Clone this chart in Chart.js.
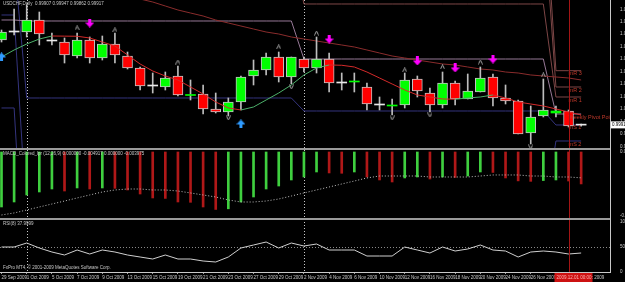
<!DOCTYPE html>
<html>
<head>
<meta charset="utf-8">
<script src="https://cdn.jsdelivr.net/npm/chart.js@4.4.1/dist/chart.umd.min.js"></script>
<style>
  html, body { margin: 0; padding: 0; background: #000; }
  #wrap { width: 625px; height: 282px; }
</style>
</head>
<body>
<div id="wrap"><canvas id="myChart"></canvas></div>
<script>
// USDCHF daily, 29 Sep - 2 Dec 2009
const dates = ['29 Sep 2009','30 Sep 2009','1 Oct 2009','2 Oct 2009','5 Oct 2009','6 Oct 2009','7 Oct 2009','8 Oct 2009','9 Oct 2009','12 Oct 2009',
  '13 Oct 2009','14 Oct 2009','15 Oct 2009','16 Oct 2009','19 Oct 2009','20 Oct 2009','21 Oct 2009','22 Oct 2009','23 Oct 2009','26 Oct 2009',
  '27 Oct 2009','28 Oct 2009','29 Oct 2009','30 Oct 2009','2 Nov 2009','3 Nov 2009','4 Nov 2009','5 Nov 2009','6 Nov 2009','9 Nov 2009',
  '10 Nov 2009','11 Nov 2009','12 Nov 2009','13 Nov 2009','16 Nov 2009','17 Nov 2009','18 Nov 2009','19 Nov 2009','20 Nov 2009','23 Nov 2009',
  '24 Nov 2009','25 Nov 2009','26 Nov 2009','27 Nov 2009','30 Nov 2009','1 Dec 2009','2 Dec 2009'];

const open  = [1.03253,1.03567,1.03567,1.04039,1.03214,1.03174,1.02624,1.03253,1.02546,1.03096,1.02624,1.02153,1.01445,1.01406,1.01838,1.01072,
  1.01131,1.00542,1.00424,1.00817,1.01838,1.02074,1.02585,1.01799,1.02506,1.02153,1.02506,1.01563,1.01603,1.01406,1.00699,1.00659,
  1.00699,1.01720,1.01170,1.00699,1.01563,1.00935,1.01210,1.01799,1.00974,1.00856,0.99598,1.00266,1.00384,1.00463,0.99907];
const high  = [1.03646,1.04471,1.04629,1.04353,1.03528,1.03332,1.03528,1.03371,1.03410,1.03528,1.02781,1.02192,1.01956,1.01995,1.02231,1.01681,
  1.01485,1.01170,1.00974,1.01838,1.02467,1.02742,1.02781,1.02585,1.02585,1.03371,1.02742,1.01956,1.01956,1.01563,1.01013,1.00935,
  1.01956,1.01838,1.01367,1.01995,1.01642,1.01917,1.02192,1.01917,1.01485,1.00895,1.00659,1.01720,1.00659,1.00502,0.99947];
const low   = [1.03174,1.03450,1.03371,1.03057,1.03057,1.02349,1.02546,1.02349,1.02467,1.02349,1.02113,1.01288,1.01170,1.01288,1.01052,1.00895,
  1.00345,1.00384,1.00266,1.00502,1.01485,1.01878,1.01603,1.01524,1.01995,1.01956,1.01210,1.01288,1.01210,1.00502,1.00502,1.00306,
  1.00581,1.01013,1.00424,1.00581,1.00699,1.00935,1.01210,1.00659,1.00738,0.99559,0.99166,1.00227,1.00227,0.99834,0.99862];
const close = [1.03567,1.03567,1.04039,1.03489,1.03214,1.02664,1.03253,1.02546,1.03096,1.02664,1.02153,1.01445,1.01445,1.01760,1.01092,1.01092,
  1.00542,1.00424,1.00817,1.01799,1.02074,1.02585,1.01799,1.02585,1.02153,1.02506,1.01563,1.01563,1.01642,1.00738,1.00699,1.00699,
  1.01681,1.01249,1.00699,1.01563,1.00935,1.01249,1.01760,1.00974,1.00856,0.99559,1.00227,1.00502,1.00463,0.99873,0.99917];

// moving averages
const maFast = [1.02585,1.02860,1.03096,1.03292,1.03410,1.03405,1.03400,1.03332,1.03174,1.03017,1.02664,1.02310,1.02035,1.01838,1.01681,1.01406,
  1.01131,1.00817,1.00581,1.00502,1.00620,1.00895,1.01170,1.01485,1.01878,1.02153,1.02271,1.02260,1.02192,1.01995,1.01760,1.01524,
  1.01288,1.01092,1.01013,1.00935,1.00925,1.00974,1.01013,1.01092,1.00974,1.00817,1.00738,1.00659,1.00542,1.00424,1.00306];
const maSlow = [1.06201,1.06083,1.05965,1.05847,1.05729,1.05611,1.05493,1.05375,1.05257,1.05139,1.04982,1.04864,1.04746,1.04589,1.04432,1.04314,
  1.04196,1.04039,1.03921,1.03803,1.03685,1.03567,1.03489,1.03371,1.03292,1.03214,1.03135,1.03057,1.02978,1.02860,1.02742,1.02624,
  1.02546,1.02467,1.02388,1.02310,1.02271,1.02192,1.02113,1.02074,1.01995,1.01956,1.01878,1.01838,1.01799,1.01760,1.01681];

// pivot levels by month: Sep (2 bars), Oct (22), Nov (20), Dec (3)
const monthBars = [2, 22, 20, 3];
const pivR3 = [1.09541, 1.09541, 1.09541, 1.02047];
const pivR2 = [1.08362, 1.08362, 1.08362, 1.01406];
const pivR1 = [1.07183, 1.07183, 1.04668, 1.01013];
const pivPP = [1.04039, 1.04000, 1.02506, 1.00345];
const pivS1 = [1.06397, 1.00974, 1.00463, 0.99913];
const pivS2 = [1.04236, 0.96179, 0.96179, 0.99284];
const pivS3 = [1.00581, 0.92249, 0.92249, 0.96965];
const pivNames = ['mR 3', 'mR 2', 'mR 1', 'Weekly Pivot Point', 'mS 1', 'mS 2'];

// signals [bar, price]
const fractalUp = [[6,1.03725],[9,1.03646],[14,1.02388],[22,1.02978],[25,1.03528],[32,1.02074],[35,1.02192],[38,1.02388],[43,1.01878]];
const fractalDown = [[18,1.00188],[23,1.01406],[31,1.00188],[34,1.00306],[42,0.99048]];
const sellArrows = [[7,1.03921],[26,1.03292],[33,1.02428],[36,1.02153],[39,1.02506]];
const buyArrows = [[0,1.02585],[19,0.99952]];

const macdHist = [-0.00847,-0.00770,-0.00662,-0.00616,-0.00570,-0.00601,-0.00554,-0.00570,-0.00554,-0.00560,-0.00585,-0.00647,-0.00708,-0.00715,
  -0.00770,-0.00775,-0.00847,-0.00885,-0.00875,-0.00770,-0.00693,-0.00570,-0.00524,-0.00431,-0.00385,-0.00308,-0.00323,-0.00328,-0.00308,
  -0.00385,-0.00431,-0.00462,-0.00400,-0.00385,-0.00416,-0.00385,-0.00392,-0.00370,-0.00308,-0.00315,-0.00400,-0.00445,-0.00452,-0.00440,
  -0.00431,-0.00447,-0.00492];
const macdSignal = [-0.00970,-0.00939,-0.00893,-0.00847,-0.00801,-0.00755,-0.00708,-0.00662,-0.00616,-0.00585,-0.00570,-0.00570,-0.00585,-0.00585,
  -0.00601,-0.00631,-0.00662,-0.00693,-0.00739,-0.00770,-0.00770,-0.00755,-0.00724,-0.00678,-0.00631,-0.00585,-0.00539,-0.00493,-0.00447,
  -0.00400,-0.00370,-0.00370,-0.00370,-0.00370,-0.00385,-0.00385,-0.00385,-0.00385,-0.00370,-0.00354,-0.00354,-0.00354,-0.00370,-0.00370,
  -0.00385,-0.00385,-0.00398];
const rsi = [50,50,58,48,40,34,44,36,44,40,34,30,26,34,26,26,22,20,30,48,54,60,48,58,52,56,44,44,44,32,32,32,50,44,38,50,42,46,54,44,42,30,40,42,40,36,38];

// axis tick labels
const priceTicks = [1.04460,1.03970,1.03480,1.02990,1.02500,1.02010,1.01520,1.01030,1.00540,1.00050,0.99560,0.99070];
const macdTicks = [0, -0.0098];
const rsiTicks = [100, 50, 0];

Chart.defaults.font.family = 'Liberation Sans';
Chart.defaults.color = '#c8c8c8';

// spread monthly pivot levels onto bars
function perBar(levels) {
  const out = [];
  monthBars.forEach((n, m) => { for (let k = 0; k < n; k++) out.push(levels[m]); });
  return out.map((v, i) => ({x: i, y: v}));
}
const pts = arr => arr.map((v, i) => ({x: i, y: v}));
const sparse = arr => arr.map(p => ({x: p[0], y: p[1]}));

function glyph(w, h, draw) {
  const c = document.createElement('canvas');
  c.width = w; c.height = h;
  draw(c.getContext('2d'));
  return c;
}
const arrowDown = glyph(9, 9, g => {
  g.fillStyle = '#ff00ff';
  g.fillRect(3, 0, 3, 4);
  g.beginPath(); g.moveTo(0, 4); g.lineTo(9, 4); g.lineTo(4.5, 9); g.closePath(); g.fill();
});
const arrowUp = glyph(9, 9, g => {
  g.fillStyle = '#2f9bff';
  g.fillRect(3, 5, 3, 4);
  g.beginPath(); g.moveTo(0, 5); g.lineTo(9, 5); g.lineTo(4.5, 0); g.closePath(); g.fill();
});
const caretUp = glyph(5, 5, g => {
  g.strokeStyle = '#a8a8a8'; g.lineWidth = 1;
  g.beginPath(); g.moveTo(0.5, 4.5); g.lineTo(2.5, 0.5); g.lineTo(4.5, 4.5); g.stroke();
});
const caretDown = glyph(5, 5, g => {
  g.strokeStyle = '#a8a8a8'; g.lineWidth = 1;
  g.beginPath(); g.moveTo(0.5, 0.5); g.lineTo(2.5, 4.5); g.lineTo(4.5, 0.5); g.stroke();
});

const isDoji = i => Math.abs(close[i] - open[i]) < 0.00015;
const bodyColor = i => isDoji(i) ? '#e8e8e8' : (close[i] > open[i] ? '#00ff00' : '#ff0000');

const smallFont = {size: 4.5, family: 'Liberation Sans'};

function pivotLine(levels, color) {
  return {type: 'line', yAxisID: 'y', data: perBar(levels), borderColor: color, borderWidth: 1,
    pointRadius: 0, order: 10, tension: 0};
}

const overlay = {
  id: 'overlay',
  beforeDatasetDraw(chart, args) {
    const ys = args.meta.yScale, a = chart.chartArea, ctx = chart.ctx;
    ctx.save();
    ctx.beginPath();
    ctx.rect(a.left, ys.top, a.right - a.left, ys.bottom - ys.top);
    ctx.clip();
  },
  afterDatasetDraw(chart) { chart.ctx.restore(); },
  beforeDatasetsDraw(chart) {
    const ctx = chart.ctx, a = chart.chartArea, sx = chart.scales.x, sr = chart.scales.yR;
    ctx.save();
    // RSI 50 level
    ctx.strokeStyle = '#8a8a8a'; ctx.setLineDash([1, 2]); ctx.lineWidth = 1;
    const y50 = Math.round(sr.getPixelForValue(50)) + 0.5;
    ctx.beginPath(); ctx.moveTo(a.left, y50); ctx.lineTo(a.right, y50); ctx.stroke();
    // month separators
    ctx.strokeStyle = '#c8c8c8';
    [2, 24].forEach(i => {
      const x = Math.round(sx.getPixelForValue(i)) + 0.5;
      ctx.beginPath(); ctx.moveTo(x, a.top); ctx.lineTo(x, a.bottom); ctx.stroke();
    });
    ctx.restore();
  },
  afterDraw(chart) {
    const ctx = chart.ctx, a = chart.chartArea, sx = chart.scales.x;
    const sy = chart.scales.y, sm = chart.scales.yM, sr = chart.scales.yR;
    ctx.save();
    // pivot labels for the current period
    ctx.save();
    ctx.beginPath(); ctx.rect(a.left, sy.top, a.right - a.left, sy.bottom - sy.top); ctx.clip();
    ctx.font = '5.5px Liberation Sans'; ctx.fillStyle = '#c0392b'; ctx.textBaseline = 'middle';
    const last = monthBars.length - 1;
    [pivR3, pivR2, pivR1, pivPP, pivS1, pivS2].forEach((lv, k) => {
      ctx.fillText(pivNames[k], sx.getPixelForValue(45), sy.getPixelForValue(lv[last]) + 3);
    });
    ctx.restore();
    // current day line
    const xr = Math.round(sx.getPixelForValue(45)) + 0.5;
    ctx.strokeStyle = '#a31515'; ctx.lineWidth = 1;
    ctx.beginPath(); ctx.moveTo(xr, a.top); ctx.lineTo(xr, a.bottom); ctx.stroke();
    // panel separators and borders
    ctx.fillStyle = '#9a9a9a';
    ctx.fillRect(a.left, Math.round(sy.bottom) - 1, a.right - a.left, 2);
    ctx.fillRect(a.left, Math.round(sm.bottom) - 1, a.right - a.left, 2);
    ctx.fillStyle = '#c8c8c8';
    ctx.fillRect(Math.round(a.right), a.top, 1, a.bottom - a.top + 1);
    ctx.fillRect(a.left, Math.round(a.bottom), a.right - a.left, 1);
    // window captions
    ctx.font = '4.5px Liberation Sans'; ctx.fillStyle = '#c8c8c8'; ctx.textBaseline = 'middle';
    ctx.fillText('USDCHF,Daily  0.99907 0.99947 0.99862 0.99917', 3, sy.top + 4);
    ctx.fillText('MACD_Colored_lpr (12,26,9) 0.000000 -0.004917 0.000000 -0.003975', 3, sm.top + 5);
    ctx.fillText('RSI(8) 37.9999', 3, sr.top + 5);
    ctx.fillText('FxPro MT4, \u00a9 2001-2009 MetaQuotes Software Corp.', 3, sr.bottom - 4);
    // current price box
    const yp = sy.getPixelForValue(close[close.length - 1]);
    ctx.fillStyle = '#ffffff'; ctx.fillRect(a.right + 1, yp - 3.5, 15, 7);
    ctx.fillStyle = '#000000'; ctx.fillText(close[close.length - 1].toFixed(5), a.right + 2, yp);
    // time marker on the date axis
    ctx.fillStyle = '#cc1111'; ctx.fillRect(xr - 15, a.bottom + 1, 38, 9);
    ctx.fillStyle = '#ffb0b0'; ctx.fillText('2009.12.01 00:00', xr - 13, a.bottom + 5.5);
    ctx.restore();
  }
};

const config = {
  data: {
    datasets: [
      pivotLine(pivR3, '#7d4646'),
      pivotLine(pivR2, '#7d4646'),
      pivotLine(pivR1, '#7d4646'),
      pivotLine(pivPP, '#967896'),
      pivotLine(pivS1, '#34347e'),
      pivotLine(pivS2, '#34347e'),
      pivotLine(pivS3, '#34347e'),
      {type: 'line', yAxisID: 'y', data: pts(maSlow), borderColor: '#8a2c2c', borderWidth: 1, pointRadius: 0, order: 9},
      {type: 'bar', yAxisID: 'y', data: low.map((l, i) => ({x: i, y: [l, high[i]]})), barThickness: 1,
        backgroundColor: '#bdbdbd', grouped: false, order: 6},
      {type: 'bar', yAxisID: 'y', data: open.map((o, i) => ({x: i, y: [o, close[i]]})), barThickness: 10,
        minBarLength: 1, grouped: false, borderSkipped: false,
        backgroundColor: c => bodyColor(c.dataIndex),
        borderColor: '#c4c4c4',
        borderWidth: c => Math.abs(close[c.dataIndex] - open[c.dataIndex]) < 0.0008 ? 0 : 1,
        order: 5},
      {type: 'line', yAxisID: 'y', data: pts(maFast), borderWidth: 1, pointRadius: 0, order: 3,
        borderColor: '#d42a2a',
        segment: {borderColor: c => c.p1.parsed.y >= c.p0.parsed.y ? '#4cb06a' : '#d42a2a'}},
      {type: 'line', yAxisID: 'y', data: sparse(sellArrows), showLine: false, pointStyle: arrowDown, order: 2},
      {type: 'line', yAxisID: 'y', data: sparse(buyArrows), showLine: false, pointStyle: arrowUp, order: 2},
      {type: 'line', yAxisID: 'y', data: sparse(fractalUp), showLine: false, pointStyle: caretUp, order: 2},
      {type: 'line', yAxisID: 'y', data: sparse(fractalDown), showLine: false, pointStyle: caretDown, order: 2},
      {type: 'bar', yAxisID: 'yM', data: pts(macdHist), barThickness: 2, grouped: false, order: 7,
        backgroundColor: c => (c.dataIndex === 0 || macdHist[c.dataIndex] > macdHist[c.dataIndex - 1]) ? '#3fcf3f' : '#b01818'},
      {type: 'line', yAxisID: 'yM', data: pts(macdSignal), borderColor: '#c0c0c0', borderWidth: 1,
        borderDash: [1, 2], pointRadius: 0, order: 2},
      {type: 'line', yAxisID: 'yR', data: pts(rsi), borderColor: '#cfcfcf', borderWidth: 1, pointRadius: 0, order: 2}
    ]
  },
  options: {
    responsive: true,
    maintainAspectRatio: false,
    animation: false,
    devicePixelRatio: 1,
    layout: {padding: 0, autoPadding: false},
    plugins: {legend: {display: false}, tooltip: {enabled: false}, title: {display: false}},
    scales: {
      x: {
        type: 'linear', position: 'bottom', min: -0.12, max: 48.29, offset: false,
        afterBuildTicks: s => { s.ticks = dates.map((d, i) => ({value: i})).filter(t => t.value % 2 === 0); },
        afterFit: s => { s.height = 10; s.paddingLeft = 0; s.paddingRight = 0; },
        ticks: {autoSkip: false, maxRotation: 0, align: 'start', padding: 1, color: '#c8c8c8', font: smallFont,
          callback: v => dates[v]},
        grid: {display: true, offset: false, drawOnChartArea: false, tickLength: 2, color: '#a0a0a0'},
        border: {display: false}
      },
      y: {
        type: 'linear', position: 'right', stack: 'panes', stackWeight: 149, min: 0.98969, max: 1.04825,
        afterBuildTicks: s => { s.ticks = priceTicks.map(v => ({value: v})); },
        afterFit: s => { s.width = 15; s.paddingTop = 0; s.paddingBottom = 0; },
        ticks: {autoSkip: false, padding: 2, color: '#c8c8c8', font: smallFont, callback: v => v.toFixed(5)},
        grid: {display: false}, border: {display: false}
      },
      yM: {
        type: 'linear', position: 'right', stack: 'panes', stackWeight: 70, min: -0.01032, max: 0.00046,
        afterBuildTicks: s => { s.ticks = macdTicks.map(v => ({value: v})); },
        afterFit: s => { s.width = 15; s.paddingTop = 0; s.paddingBottom = 0; },
        ticks: {autoSkip: false, padding: 2, color: '#c8c8c8', font: smallFont, callback: v => v.toFixed(6)},
        grid: {display: false}, border: {display: false}
      },
      yR: {
        type: 'linear', position: 'right', stack: 'panes', stackWeight: 53, min: 0, max: 106,
        afterBuildTicks: s => { s.ticks = rsiTicks.map(v => ({value: v})); },
        afterFit: s => { s.width = 15; s.paddingTop = 0; s.paddingBottom = 0; },
        ticks: {autoSkip: false, padding: 2, color: '#c8c8c8', font: smallFont},
        grid: {display: false}, border: {display: false}
      }
    }
  },
  plugins: [overlay]
};

const usdchfChart = new Chart(document.getElementById('myChart'), config);
</script>
</body>
</html>
